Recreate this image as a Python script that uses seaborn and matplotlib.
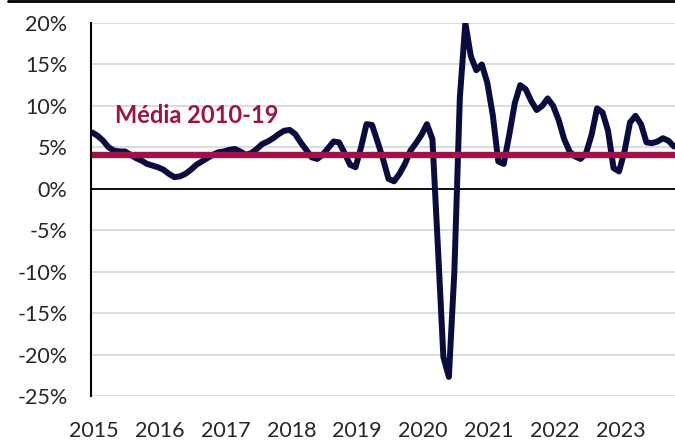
import matplotlib
matplotlib.use("Agg")
import matplotlib.pyplot as plt
import matplotlib.lines as mlines
import seaborn as sns
import pandas as pd
import numpy as np

# Monthly values (%), Jan 2015 onwards
values = [
    6.8, 6.4, 5.8, 5.0, 4.6, 4.5, 4.5, 4.1, 3.7, 3.4, 3.0, 2.8,      # 2015
    2.6, 2.3, 1.8, 1.4, 1.5, 1.8, 2.3, 2.9, 3.3, 3.7, 4.1, 4.4,      # 2016
    4.5, 4.7, 4.8, 4.5, 4.1, 4.3, 4.8, 5.4, 5.7, 6.1, 6.6, 7.0,      # 2017
    7.1, 6.6, 5.6, 4.7, 3.8, 3.6, 4.1, 4.9, 5.7, 5.6, 4.3, 2.9,      # 2018
    2.6, 5.0, 7.8, 7.7, 5.7, 3.6, 1.2, 0.9, 1.8, 3.0, 4.6, 5.5,      # 2019
    6.5, 7.8, 6.0, -7.0, -20.3, -22.7, -10.0, 11.0, 20.0, 16.0, 14.3, 15.0,  # 2020
    12.8, 8.9, 3.3, 3.0, 6.5, 10.3, 12.5, 12.0, 10.6, 9.5, 10.0, 10.9,  # 2021
    10.0, 8.3, 6.0, 4.5, 3.9, 3.6, 4.3, 6.5, 9.7, 9.2, 7.0, 2.5,     # 2022
    2.1, 4.5, 8.0, 8.8, 7.8, 5.6, 5.5, 5.7, 6.1, 5.8, 5.1,           # 2023
]
years = [2015, 2016, 2017, 2018, 2019, 2020, 2021, 2022, 2023]
y_ticks = [20, 15, 10, 5, 0, -5, -10, -15, -20, -25]
avg_value = 4.1
avg_label = "Média 2010-19"

df = pd.DataFrame({"month": np.arange(len(values)), "value": values})

sns.set_style("white")
plt.rcParams["font.family"] = ["Lato", "DejaVu Sans"]

fig = plt.figure(figsize=(6.75, 4.41), dpi=100)
ax = fig.add_axes([91 / 675, 1 - 396 / 441, 1 - 91 / 675, (396 - 23) / 441])

for t in y_ticks:
    ax.axhline(t, color="#D9D9D9", lw=1.3, zorder=0)
ax.axhline(0, color="black", lw=1.3, zorder=1)

sns.lineplot(data=df, x="month", y="value", ax=ax, color="#0B0B40",
             lw=4.3, zorder=3, solid_joinstyle="round", solid_capstyle="round")
ax.axhline(avg_value, color="#9E1247", lw=4.6, zorder=4)
ax.text(4.2, 7.9, avg_label, color="#9E1247", fontsize=17, fontweight="bold",
        ha="left", va="baseline", zorder=5)

ax.set_xlim(-0.2, 106.2)
ax.set_ylim(-25, 20)
ax.set_yticks(y_ticks)
ax.set_yticklabels([f"{t}%" for t in y_ticks])
ax.set_xticks([(y - 2015) * 12 + 0.3 for y in years])
ax.set_xticklabels([str(y) for y in years])
ax.tick_params(axis="y", length=0, pad=17, labelsize=15.5)
ax.tick_params(axis="x", length=0, pad=18, labelsize=15.5)
ax.set_xlabel("")
ax.set_ylabel("")
for s in ["top", "right", "bottom"]:
    ax.spines[s].set_visible(False)
ax.spines["left"].set_color("black")
ax.spines["left"].set_linewidth(1.5)
ax.spines["left"].set_zorder(6)

fig.add_artist(mlines.Line2D([8 / 675, 1], [1 - 1 / 441, 1 - 1 / 441],
                             color="black", lw=2, transform=fig.transFigure))

fig.savefig("out.png", dpi=100)
